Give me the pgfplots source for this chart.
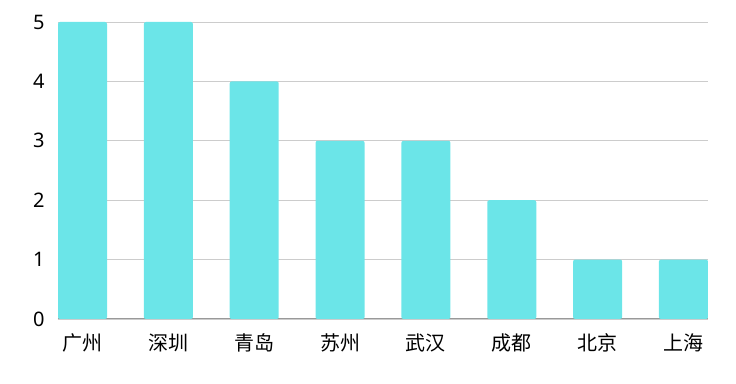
\documentclass[border=0pt]{standalone}
\usepackage{pgfplots}
\pgfplotsset{compat=1.18}
\usepackage{fontspec}
\setmainfont{Noto Sans CJK SC}
\newfontfamily\numfont{Noto Sans}
\definecolor{barc}{HTML}{6BE5E8}
\definecolor{gridc}{HTML}{CCCCCC}
\definecolor{axc}{HTML}{999999}
\begin{document}
\begin{tikzpicture}[x=1pt,y=1pt]
\path[use as bounding box] (0,0) rectangle (736,383);
\begin{axis}[
  at={(58pt,64pt)}, anchor=south west,
  scale only axis, width=650pt, height=297pt,
  xmin=-0.286, xmax=7.286, ymin=0, ymax=5,
  ybar, bar width=0.571, bar shift=0pt,
  axis line style={draw=none},
  xtick=data, xticklabels={广州,深圳,青岛,苏州,武汉,成都,北京,上海},
  ytick={0,1,2,3,4,5},
  major tick length=0pt,
  ymajorgrids, grid style={gridc, line width=0.8pt},
  /pgf/number format/assume math mode=true,
  yticklabel style={xshift=-10pt, font=\numfont\fontsize{20}{24}\selectfont, text=black},
  xticklabel style={yshift=-11pt, font=\fontsize{20}{24}\selectfont, text=black},
  extra y ticks={0}, extra y tick labels={},
  extra y tick style={grid style={axc, line width=1pt}},
  clip=false,
]
\addplot[fill=barc, draw=none, rounded corners=2pt] coordinates {(0,5) (1,5) (2,4) (3,3) (4,3) (5,2) (6,1) (7,1)};
\end{axis}
\end{tikzpicture}
\end{document}
